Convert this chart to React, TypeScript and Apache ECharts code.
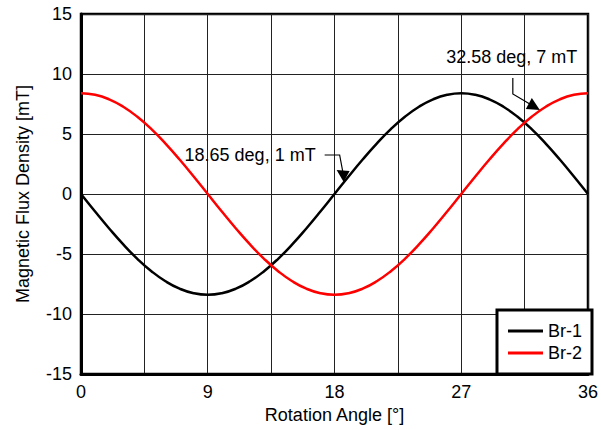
import React, { useEffect, useRef } from "react";
import * as echarts from "echarts";

const angles = [
  0, 1, 2, 3, 4, 5, 6, 7, 8, 9, 10, 11, 12, 13, 14, 15, 16, 17, 18,
  19, 20, 21, 22, 23, 24, 25, 26, 27, 28, 29, 30, 31, 32, 33, 34, 35, 36,
];
const br1 = [
  0, -1.46, -2.87, -4.2, -5.4, -6.43, -7.27, -7.89, -8.27, -8.4, -8.27, -7.89,
  -7.27, -6.43, -5.4, -4.2, -2.87, -1.46, 0, 1.46, 2.87, 4.2, 5.4, 6.43, 7.27,
  7.89, 8.27, 8.4, 8.27, 7.89, 7.27, 6.43, 5.4, 4.2, 2.87, 1.46, 0,
];
const br2 = [
  8.4, 8.27, 7.89, 7.27, 6.43, 5.4, 4.2, 2.87, 1.46, 0, -1.46, -2.87, -4.2,
  -5.4, -6.43, -7.27, -7.89, -8.27, -8.4, -8.27, -7.89, -7.27, -6.43, -5.4,
  -4.2, -2.87, -1.46, 0, 1.46, 2.87, 4.2, 5.4, 6.43, 7.27, 7.89, 8.27, 8.4,
];
const seriesNames = ["Br-1", "Br-2"];
const xAxisTitle = "Rotation Angle [°]";
const yAxisTitle = "Magnetic Flux Density [mT]";
const annotations = [
  { x: 18.65, y: 1, label: "18.65 deg, 1 mT" },
  { x: 32.58, y: 7, label: "32.58 deg, 7 mT" },
];

const FONT = "Liberation Sans, Arial, Helvetica, sans-serif";

export default function App() {
  const ref = useRef<HTMLDivElement>(null);
  useEffect(() => {
    document.body.style.margin = "0";
    if (!ref.current) return;
    const chart = echarts.init(ref.current, undefined, { renderer: "svg" });
    const option: any = {
      animation: false,
      backgroundColor: "#fff",
      textStyle: { fontFamily: FONT },
      grid: {
        left: 81,
        right: 9,
        top: 14,
        bottom: 56,
        show: true,
        borderColor: "#000",
        borderWidth: 2.5,
        backgroundColor: "transparent",
      },
      legend: {
        orient: "vertical",
        right: 9,
        bottom: 56,
        padding: [12, 10, 12, 11],
        itemGap: 4,
        itemWidth: 35,
        itemHeight: 3,
        icon: "rect",
        backgroundColor: "#fff",
        borderColor: "#000",
        borderWidth: 3,
        borderRadius: 0,
        textStyle: { fontSize: 18, color: "#000", fontFamily: FONT, lineHeight: 18 },
        data: seriesNames,
      },
      xAxis: {
        type: "value",
        min: 0,
        max: 36,
        interval: 9,
        name: xAxisTitle,
        nameLocation: "middle",
        nameGap: 29,
        nameTextStyle: { fontSize: 18, color: "#000", fontFamily: FONT },
        axisLine: { show: true, onZero: false, lineStyle: { color: "#000", width: 3 } },
        axisTick: { show: false },
        axisLabel: { fontSize: 18, color: "#000", margin: 9, fontFamily: FONT },
        splitLine: { show: true, lineStyle: { color: "#222", width: 1 } },
        minorTick: { show: false, splitNumber: 2 },
        minorSplitLine: { show: true, lineStyle: { color: "#222", width: 1 } },
      },
      yAxis: {
        type: "value",
        min: -15,
        max: 15,
        interval: 5,
        name: yAxisTitle,
        nameLocation: "middle",
        nameGap: 49,
        nameTextStyle: { fontSize: 18, color: "#000", fontFamily: FONT },
        axisLine: { show: true, onZero: false, lineStyle: { color: "#000", width: 3 } },
        axisTick: { show: false },
        axisLabel: { fontSize: 18, color: "#000", margin: 9, fontFamily: FONT },
        splitLine: { show: true, lineStyle: { color: "#222", width: 1 } },
      },
      series: [
        {
          name: seriesNames[0],
          type: "line",
          data: angles.map((a, i) => [a, br1[i]]),
          symbol: "none",
          smooth: true,
          lineStyle: { color: "#000", width: 2.5 },
          itemStyle: { color: "#000" },
        },
        {
          name: seriesNames[1],
          type: "line",
          data: angles.map((a, i) => [a, br2[i]]),
          symbol: "none",
          smooth: true,
          lineStyle: { color: "#ff0000", width: 2.5 },
          itemStyle: { color: "#ff0000" },
        },
      ],
    };
    chart.setOption(option);

    const p1 = chart.convertToPixel({ seriesIndex: 0 }, [annotations[0].x, annotations[0].y]) as number[];
    const p2 = chart.convertToPixel({ seriesIndex: 1 }, [annotations[1].x, annotations[1].y]) as number[];
    const lineStyle = { stroke: "#000", lineWidth: 1.2, fill: "none" };
    const textStyle = { fontSize: 18, fill: "#000", fontFamily: FONT };
    const graphic: any[] = [
      {
        type: "text",
        x: p1[0] - 28,
        y: p1[1] - 27,
        z: 100,
        style: { ...textStyle, text: annotations[0].label, align: "right", verticalAlign: "middle" },
      },
      {
        type: "polyline",
        z: 100,
        shape: { points: [[p1[0] - 19, p1[1] - 27], [p1[0] - 4, p1[1] - 27], [p1[0] - 1, p1[1] - 11]] },
        style: lineStyle,
      },
      {
        type: "polygon",
        z: 100,
        shape: { points: [[p1[0], p1[1]], [p1[0] - 7, p1[1] - 12], [p1[0] + 6, p1[1] - 11]] },
        style: { fill: "#000" },
      },
      {
        type: "text",
        x: p2[0] - 28,
        y: p2[1] - 53,
        z: 100,
        style: { ...textStyle, text: annotations[1].label, align: "center", verticalAlign: "middle" },
      },
      {
        type: "polyline",
        z: 100,
        shape: { points: [[p2[0] - 27, p2[1] - 32], [p2[0] - 27, p2[1] - 16], [p2[0] - 10, p2[1] - 6]] },
        style: lineStyle,
      },
      {
        type: "polygon",
        z: 100,
        shape: { points: [[p2[0], p2[1]], [p2[0] - 14, p2[1] - 1], [p2[0] - 8, p2[1] - 12]] },
        style: { fill: "#000" },
      },
    ];
    chart.setOption({ graphic });
    return () => chart.dispose();
  }, []);
  return <div ref={ref} style={{ width: 601, height: 430 }} />;
}
